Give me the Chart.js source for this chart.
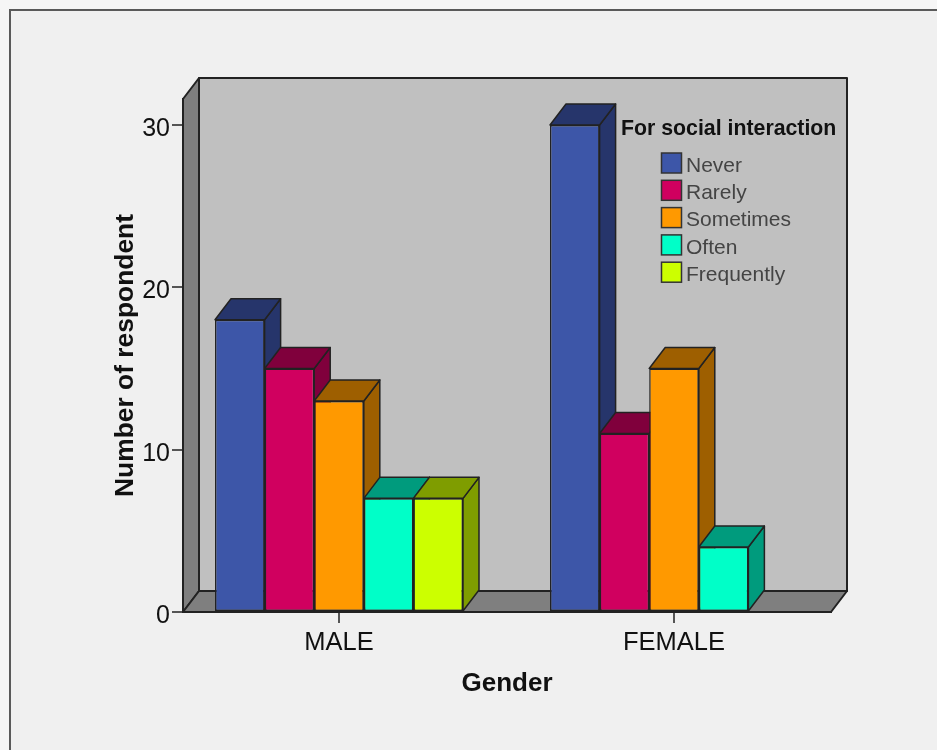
<!DOCTYPE html>
<html>
<head>
<meta charset="utf-8">
<style>
  html, body { margin: 0; padding: 0; background: #f6f6f6; }
  #wrap { width: 937px; height: 750px; position: relative; }
  canvas { display: block; }
</style>
<script src="https://cdn.jsdelivr.net/npm/chart.js@4"></script>
</head>
<body>
<div id="wrap"><canvas id="chart" width="937" height="750"></canvas></div>
<script>
// Respondent counts per gender, one list for each answer
const genders = ['MALE', 'FEMALE'];
const never = [18, 30];
const rarely = [15, 11];
const sometimes = [13, 15];
const often = [7, 4];
const frequently = [7, null];

const answerLabels = ['Never', 'Rarely', 'Sometimes', 'Often', 'Frequently'];
const answerValues = [never, rarely, sometimes, often, frequently];
const faceColors = ['#3d56a8', '#d0005f', '#ff9900', '#00ffc8', '#ccff00'];
const shadeColors = ['#26356b', '#80003c', '#9e5f00', '#009b7d', '#7f9d00'];
const valueTicks = [0, 10, 20, 30];

const legendTitle = 'For social interaction';
const xTitle = 'Gender';
const yTitle = 'Number of respondent';

const FONT = '"Liberation Sans", Arial, sans-serif';
const INK = '#222222';
const DEPTH_X = 16;
const DEPTH_Y = 21;

function polygon(ctx, pts, fill) {
  ctx.beginPath();
  ctx.moveTo(pts[0][0], pts[0][1]);
  for (let i = 1; i < pts.length; i++) ctx.lineTo(pts[i][0], pts[i][1]);
  ctx.closePath();
  ctx.fillStyle = fill;
  ctx.fill();
  ctx.stroke();
}

// Panel behind the chart with its thin frame on the top and left edges
const panel = {
  id: 'panel',
  beforeDraw(chart) {
    const ctx = chart.ctx;
    ctx.save();
    ctx.fillStyle = '#f0f0f0';
    ctx.fillRect(9, 9, 928, 741);
    ctx.strokeStyle = '#5a5a5a';
    ctx.lineWidth = 2;
    ctx.beginPath();
    ctx.moveTo(10, 750);
    ctx.lineTo(10, 10);
    ctx.lineTo(937, 10);
    ctx.stroke();
    ctx.restore();
  }
};

// Box walls and the depth faces of each bar; the library paints the front faces on top
const depth = {
  id: 'depth',
  beforeDatasetsDraw(chart) {
    const ctx = chart.ctx;
    const { left, right, top, bottom } = chart.chartArea;
    ctx.save();
    ctx.lineJoin = 'round';
    ctx.strokeStyle = INK;
    ctx.lineWidth = 2;
    polygon(ctx, [[left + DEPTH_X, top - DEPTH_Y], [right + DEPTH_X, top - DEPTH_Y], [right + DEPTH_X, bottom - DEPTH_Y], [left + DEPTH_X, bottom - DEPTH_Y]], '#c0c0c0');
    polygon(ctx, [[left, top], [left + DEPTH_X, top - DEPTH_Y], [left + DEPTH_X, bottom - DEPTH_Y], [left, bottom]], '#7f7f7f');
    polygon(ctx, [[left, bottom], [left + DEPTH_X, bottom - DEPTH_Y], [right + DEPTH_X, bottom - DEPTH_Y], [right, bottom]], '#7f7f7f');

    ctx.lineWidth = 1.5;
    chart.data.labels.forEach((_, g) => {
      chart.data.datasets.forEach((ds, d) => {
        const bar = chart.getDatasetMeta(d).data[g];
        if (!bar || ds.data[g].y === null) return;
        const p = bar.getProps(['x', 'y', 'base', 'width'], true);
        const l = p.x - p.width / 2, r = p.x + p.width / 2;
        polygon(ctx, [[r, p.y], [r + DEPTH_X, p.y - DEPTH_Y], [r + DEPTH_X, p.base - DEPTH_Y], [r, p.base]], shadeColors[d]);
        polygon(ctx, [[l, p.y], [l + DEPTH_X, p.y - DEPTH_Y], [r + DEPTH_X, p.y - DEPTH_Y], [r, p.y]], shadeColors[d]);
      });
    });
    ctx.restore();
  }
};

// Legend set inside the plot, to the right of the tallest bar
const insetLegend = {
  id: 'insetLegend',
  afterDatasetsDraw(chart) {
    const ctx = chart.ctx;
    ctx.save();
    ctx.textBaseline = 'middle';
    ctx.textAlign = 'left';
    ctx.font = 'bold 21.3px ' + FONT;
    ctx.fillStyle = '#111111';
    ctx.fillText(legendTitle, 621, 129.5);
    ctx.font = '21px ' + FONT;
    chart.data.datasets.forEach((ds, i) => {
      const y = 153 + i * 27.3;
      ctx.fillStyle = ds.backgroundColor;
      ctx.strokeStyle = '#333333';
      ctx.lineWidth = 1.5;
      ctx.fillRect(661.5, y, 20, 20);
      ctx.strokeRect(661.5, y, 20, 20);
      ctx.fillStyle = '#444444';
      ctx.fillText(ds.label, 686, y + 13);
    });
    ctx.restore();
  }
};

new Chart(document.getElementById('chart'), {
  type: 'bar',
  data: {
    labels: genders,
    datasets: answerLabels.map((label, d) => ({
      label,
      data: answerValues[d].map((v, g) => ({ x: g, y: v })),
      backgroundColor: faceColors[d],
      borderColor: INK,
      borderWidth: 1.5,
      borderSkipped: false,
      categoryPercentage: 0.7403,
      barPercentage: 1
    }))
  },
  options: {
    responsive: false,
    animation: false,
    layout: { padding: { left: 0, right: 106, top: 99, bottom: 0 } },
    plugins: { legend: { display: false }, tooltip: { enabled: false } },
    scales: {
      x: {
        type: 'linear',
        offset: false,
        min: -0.4657,
        max: 1.4687,
        afterBuildTicks(scale) { scale.ticks = genders.map((_, i) => ({ value: i })); },
        afterFit(scale) { scale.height = 138; },
        grid: { offset: false, drawOnChartArea: false, color: '#555555', lineWidth: 2, tickLength: 11 },
        border: { color: INK, width: 2 },
        ticks: {
          autoSkip: false,
          maxRotation: 0,
          padding: 5,
          color: '#111111',
          font: { family: FONT, size: 25.5 },
          callback: (v) => genders[v]
        },
        title: {
          display: true,
          text: xTitle,
          color: '#111111',
          font: { family: FONT, size: 26, weight: 'bold' },
          padding: { top: 0, bottom: 51 }
        }
      },
      y: {
        min: 0,
        max: 31.6,
        afterBuildTicks(scale) { scale.ticks = valueTicks.map((value) => ({ value })); },
        afterFit(scale) { scale.width = 183; },
        grid: { drawOnChartArea: false, color: '#555555', lineWidth: 2, tickLength: 11 },
        border: { color: INK, width: 2 },
        ticks: {
          padding: 2,
          labelOffset: 4,
          color: '#111111',
          font: { family: FONT, size: 25 }
        },
        title: {
          display: true,
          text: yTitle,
          color: '#111111',
          font: { family: FONT, size: 26.4, weight: 'bold' },
          padding: { top: 110, bottom: 0 }
        }
      }
    }
  },
  plugins: [panel, depth, insetLegend]
});
</script>
</body>
</html>
